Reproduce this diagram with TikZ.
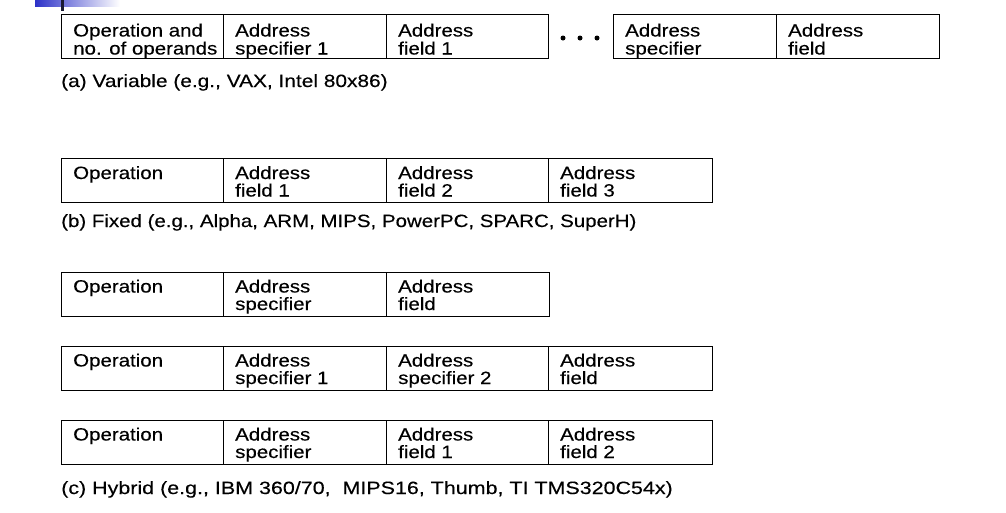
\documentclass[tikz,border=0pt]{standalone}
\usepackage{graphicx}
\usepackage{fontspec}
\setmainfont{Liberation Sans}[FakeStretch=1.15,FakeBold=0.3]
\usetikzlibrary{calc}
\definecolor{barblue}{RGB}{45,50,200}
\definecolor{bardark}{RGB}{25,25,50}
\tikzset{
  cell/.style={draw=black, line width=1.4pt, rectangle, inner sep=0pt, minimum height=44pt, anchor=north west},
  lbl/.style={anchor=base west, inner sep=0pt, font=\fontsize{17.8}{17.8}\selectfont, text=black},
  captxt/.style={anchor=base west, inner sep=0pt, font=\fontsize{17.8}{17.8}\selectfont, text=black},
  dotfill/.style={fill=black}
}
% name, x, top, width, line1, line2, baseline1, baseline2
\newcommand\mycell[8]{%
  \node[cell, minimum width=#4pt] (#1) at (#2,-#3) {};
  \node[lbl] (#1-l1) at ([xshift=12pt,yshift=-#7pt]#1.north west) {#5};
  \node[lbl] (#1-l2) at ([xshift=12pt,yshift=-#8pt]#1.north west) {#6};
}
\begin{document}
\begin{tikzpicture}[x=1pt,y=1pt]
\useasboundingbox (0,0) rectangle (1006,-512);
% top-left slide decoration
\shade[left color=barblue, right color=white] (35,0) rectangle (120,-6);
\fill[bardark] (60.5,0) rectangle (63.5,-11);
% (a) variable
\mycell{a1}{61}{14}{162}{Operation and}{no. of operands}{22.5}{40.5}
\mycell{a2}{223}{14}{163}{Address}{specifier 1}{22.5}{40.5}
\mycell{a3}{386}{14}{162}{Address}{field 1}{22.5}{40.5}
\fill[dotfill] (563,-38) circle (2.5);
\fill[dotfill] (580,-38) circle (2.5);
\fill[dotfill] (597,-38) circle (2.5);
\mycell{a4}{613}{14}{163}{Address}{specifier}{22.5}{40.5}
\mycell{a5}{776}{14}{163}{Address}{field}{22.5}{40.5}
\node[captxt] (capa) at (61,-87) {\scalebox{1.02}[1]{(a) Variable (e.g., VAX, Intel 80x86)}};
% (b) fixed
\mycell{b1}{61}{158}{162}{Operation}{}{21}{38.5}
\mycell{b2}{223}{158}{163}{Address}{field 1}{21}{38.5}
\mycell{b3}{386}{158}{162}{Address}{field 2}{21}{38.5}
\mycell{b4}{548}{158}{164}{Address}{field 3}{21}{38.5}
\node[captxt] (capb) at (61,-227) {(b) Fixed (e.g., Alpha, ARM, MIPS, PowerPC, SPARC, SuperH)};
% (c) hybrid
\mycell{c11}{61}{272}{162}{Operation}{}{20.5}{38}
\mycell{c12}{223}{272}{163}{Address}{specifier}{20.5}{38}
\mycell{c13}{386}{272}{163}{Address}{field}{20.5}{38}
\mycell{c21}{61}{346}{162}{Operation}{}{20.5}{38}
\mycell{c22}{223}{346}{163}{Address}{specifier 1}{20.5}{38}
\mycell{c23}{386}{346}{162}{Address}{specifier 2}{20.5}{38}
\mycell{c24}{548}{346}{164}{Address}{field}{20.5}{38}
\mycell{c31}{61}{420}{162}{Operation}{}{20.5}{38}
\mycell{c32}{223}{420}{163}{Address}{specifier}{20.5}{38}
\mycell{c33}{386}{420}{162}{Address}{field 1}{20.5}{38}
\mycell{c34}{548}{420}{164}{Address}{field 2}{20.5}{38}
\node[captxt] (capc) at (61,-494) {\scalebox{1.048}[1]{(c) Hybrid (e.g., IBM 360/70,\ \ MIPS16, Thumb, TI TMS320C54x)}};
\end{tikzpicture}
\end{document}
